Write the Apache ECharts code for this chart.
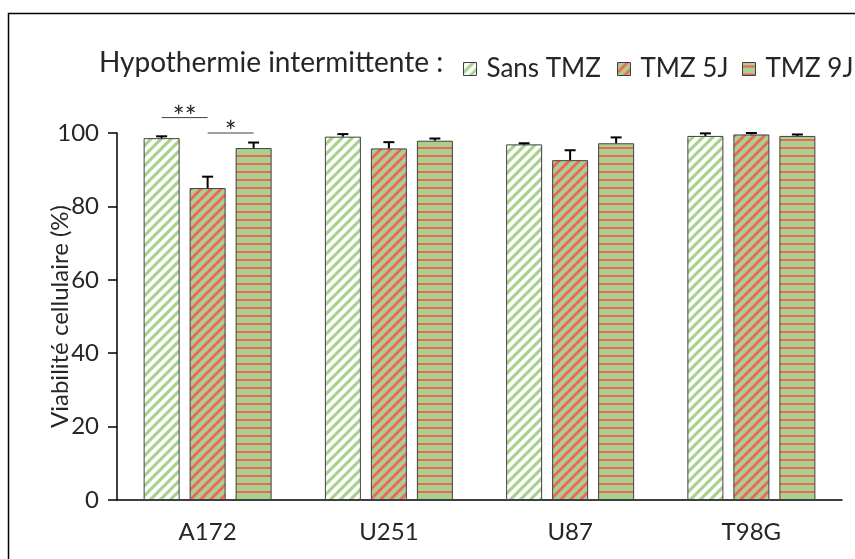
<!DOCTYPE html>
<html>
<head>
<meta charset="utf-8">
<script src="https://cdn.jsdelivr.net/npm/echarts@6/dist/echarts.min.js"></script>
<style>
  html, body { margin: 0; padding: 0; background: #fff; }
  #chart { width: 855px; height: 559px; }
</style>
</head>
<body>
<div id="chart"></div>
<script>
// Cell lines and treatment groups
const categories = ['A172', 'U251', 'U87', 'T98G'];
const seriesNames = ['Sans TMZ', 'TMZ 5J', 'TMZ 9J'];

// Mean viability (%) per cell line
const sansTMZ = [98.6, 99.0, 96.9, 99.2];
const tmz5J   = [85.0, 95.8, 92.6, 99.6];
const tmz9J   = [95.9, 97.9, 97.2, 99.2];

// Upper error (SD) per cell line
const sansTMZErr = [0.5, 0.7, 0.3, 0.7];
const tmz5JErr   = [3.1, 1.7, 2.7, 0.4];
const tmz9JErr   = [1.5, 0.6, 1.6, 0.4];

// Y axis ticks
const yTicks = [0, 20, 40, 60, 80, 100];

// Significance marks: category, first group, second group, label
const significance = [
  ['A172', 0, 1, '**'],
  ['A172', 1, 2, '*']
];

const FONT = 'Lato, "Noto Sans", sans-serif';
const TEXT = '#262626';
const GREEN = '#a9d18e';
const RED = '#f2625e';
const BAR_W = 36;
const BAR_GAP = 10;

// Repeating stripe tiles used as bar fills
function stripeTile(bg, fg, kind, w) {
  const s = kind === 'h' ? 8 : 10;
  const c = document.createElement('canvas');
  c.width = s; c.height = s;
  const g = c.getContext('2d');
  g.fillStyle = bg;
  g.fillRect(0, 0, s, s);
  g.fillStyle = fg;
  if (kind === 'h') {
    g.fillRect(0, 3, s, 2);
  } else {
    for (const k of [-s, 0, s]) {
      g.beginPath();
      g.moveTo(k - w, s);
      g.lineTo(k + w, s);
      g.lineTo(k + s + w, 0);
      g.lineTo(k + s - w, 0);
      g.closePath();
      g.fill();
    }
  }
  return { image: c, repeat: 'repeat' };
}

const fills = [
  stripeTile('#ffffff', GREEN, 'd', 2.2),
  stripeTile(GREEN, RED, 'd', 2.0),
  stripeTile(GREEN, RED, 'h')
];

const means = [sansTMZ, tmz5J, tmz9J];
const errs = [sansTMZErr, tmz5JErr, tmz9JErr];

function barSeries(i) {
  return {
    name: seriesNames[i],
    type: 'bar',
    barWidth: BAR_W,
    barGap: (BAR_GAP / BAR_W * 100) + '%',
    data: means[i],
    itemStyle: { color: fills[i], borderColor: '#404040', borderWidth: 1 },
    emphasis: { disabled: true },
    z: 2
  };
}

function errorSeries(i) {
  return {
    type: 'custom',
    name: seriesNames[i] + ' (SD)',
    data: categories.map((c, k) => [k, means[i][k], errs[i][k]]),
    encode: { x: 0, y: 1 },
    z: 3,
    silent: true,
    renderItem(params, api) {
      const k = api.value(0);
      const v = api.value(1);
      const e = api.value(2);
      const base = api.coord([k, v]);
      const top = api.coord([k, v + e]);
      const x = base[0] + (i - 1) * (BAR_W + BAR_GAP);
      const st = { stroke: '#000', lineWidth: 2 };
      return {
        type: 'group',
        children: [
          { type: 'line', shape: { x1: x, y1: base[1], x2: x, y2: top[1] }, style: st },
          { type: 'line', shape: { x1: x - 5.5, y1: top[1], x2: x + 5.5, y2: top[1] }, style: st }
        ]
      };
    }
  };
}

// Bracket heights (axis units) for the significance marks
const sigLevels = [104.2, 100];

const sigSeries = {
  type: 'custom',
  name: 'significance',
  data: significance.map((s, k) => [categories.indexOf(s[0]), s[1], s[2], k]),
  encode: { x: 0 },
  clip: false,
  silent: true,
  z: 4,
  renderItem(params, api) {
    const c = api.value(0);
    const a = api.value(1);
    const b = api.value(2);
    const k = api.value(3);
    const p = api.coord([c, sigLevels[k]]);
    const xa = p[0] + (a - 1) * (BAR_W + BAR_GAP);
    const xb = p[0] + (b - 1) * (BAR_W + BAR_GAP);
    return {
      type: 'group',
      children: [
        { type: 'line', shape: { x1: xa, y1: p[1], x2: xb, y2: p[1] },
          style: { stroke: '#404040', lineWidth: 1 } },
        { type: 'text', x: (xa + xb) / 2, y: p[1] + 14,
          style: { text: significance[k][3], fill: TEXT, font: '28px ' + FONT,
                   align: 'center', verticalAlign: 'bottom' } }
      ]
    };
  }
};

// One legend block per group so each entry sits at its own place in the header row
const legendLefts = [463, 617, 742];
const legends = seriesNames.map((n, i) => ({
  data: [n],
  left: legendLefts[i], top: 56,
  padding: 0,
  itemWidth: 13, itemHeight: 13,
  icon: 'rect',
  selectedMode: false,
  itemStyle: { borderColor: '#404040', borderWidth: 1 },
  textStyle: { fontFamily: FONT, fontSize: 26, color: TEXT, padding: [0, 0, 0, 5] }
}));

const chart = echarts.init(document.getElementById('chart'), null, { renderer: 'canvas' });

chart.setOption({
  animation: false,
  backgroundColor: '#fff',
  grid: { left: 117, right: 13, top: 133, bottom: 59, containLabel: false },
  graphic: [
    { type: 'rect', shape: { x: 8.5, y: 13.5, width: 900, height: 600 },
      style: { fill: null, stroke: '#000', lineWidth: 1.5 }, silent: true },
    { type: 'text', x: 99, y: 63,
      style: { text: 'Hypothermie intermittente :', font: '28px ' + FONT, fill: TEXT,
               align: 'left', verticalAlign: 'middle' } }
  ],
  legend: legends,
  xAxis: {
    type: 'category',
    data: categories,
    axisLine: { lineStyle: { color: '#000', width: 1.5 } },
    axisTick: { show: false },
    axisLabel: { fontFamily: FONT, fontSize: 24, color: TEXT, margin: 20 }
  },
  yAxis: {
    type: 'value',
    min: yTicks[0],
    max: yTicks[yTicks.length - 1],
    interval: yTicks[1] - yTicks[0],
    name: 'Viabilité cellulaire (%)',
    nameLocation: 'middle',
    nameGap: 45,
    nameMoveOverlap: false,
    nameTextStyle: { fontFamily: FONT, fontSize: 24, color: TEXT },
    axisLine: { show: true, lineStyle: { color: '#000', width: 1.5 } },
    axisTick: { show: true, length: 9, lineStyle: { color: '#000', width: 1.5 } },
    splitLine: { show: false },
    axisLabel: { fontFamily: FONT, fontSize: 24, color: TEXT, margin: 18 }
  },
  series: [
    barSeries(0), barSeries(1), barSeries(2),
    errorSeries(0), errorSeries(1), errorSeries(2),
    sigSeries
  ]
});
</script>
</body>
</html>
